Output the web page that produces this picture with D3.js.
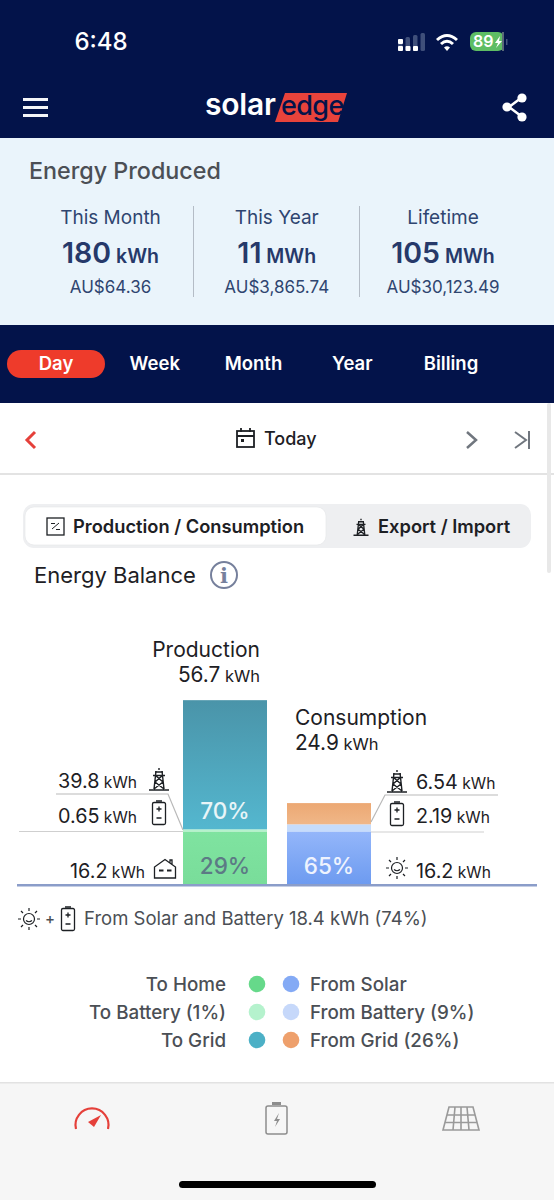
<!DOCTYPE html>
<html>
<head>
<meta charset="utf-8">
<script src="https://cdn.jsdelivr.net/npm/d3@7"></script>
<style>
  html, body { margin: 0; padding: 0; background: #fff; }
  svg { display: block; }
  text { font-family: Inter, "Noto Sans", sans-serif; }
</style>
</head>
<body>
<script>
// chart values
var barCategories = ["Production", "Consumption"];
var barTotals = ["56.7", "24.9"];
var seriesNames = ["solar", "battery", "grid"];
var solarValues = [16.2, 16.2];
var batteryValues = [0.65, 2.19];
var gridValues = [39.8, 6.54];
var maxValue = 56.7;

// legend
var legendLeft = ["To Home", "To Battery (1%)", "To Grid"];
var legendRight = ["From Solar", "From Battery (9%)", "From Grid (26%)"];
var legendLeftColors = ["#66d98a", "#b5f2cd", "#4cb0c6"];
var legendRightColors = ["#84aaf5", "#c6d8fa", "#eea06c"];

// header panels
var periodNames = ["This Month", "This Year", "Lifetime"];
var periodValues = ["180", "11", "105"];
var periodUnits = ["kWh", "MWh", "MWh"];
var periodMoney = ["AU$64.36", "AU$3,865.74", "AU$30,123.49"];
var tabNames = ["Day", "Week", "Month", "Year", "Billing"];

var w = 554, h = 1200;
var navy = "#03134a", dark = "#1d2024", gray = "#4b4f55", blue = "#2f4570";

var svg = d3.select("body").append("svg").attr("width", w).attr("height", h);
var defs = svg.append("defs");

function gradient(id, top, bottom) {
  var g = defs.append("linearGradient").attr("id", id)
    .attr("x1", 0).attr("x2", 0).attr("y1", 0).attr("y2", 1);
  g.append("stop").attr("offset", 0).attr("stop-color", top);
  g.append("stop").attr("offset", 1).attr("stop-color", bottom);
}
gradient("gGrid0", "#4a94a9", "#54b7cf");
gradient("gSolar0", "#7fe3a0", "#79dd9a");
gradient("gSolar1", "#94b6fa", "#6d9bf0");
gradient("gGrid1", "#eca873", "#f0b788");

function label(x, y, str, size, color, weight, anchor) {
  return svg.append("text").attr("x", x).attr("y", y).text(str)
    .attr("font-size", size).attr("fill", color)
    .attr("font-weight", weight || 400)
    .attr("text-anchor", anchor || "start");
}
function box(x, y, width, height, fill, r) {
  return svg.append("rect").attr("x", x).attr("y", y)
    .attr("width", width).attr("height", height)
    .attr("fill", fill).attr("rx", r || 0);
}
function stroke(d, color, sw, parent) {
  return (parent || svg).append("path").attr("d", d).attr("fill", "none")
    .attr("stroke", color).attr("stroke-width", sw || 1.3);
}

// value + small unit on one text node
function kwh(x, y, val, anchor) {
  var t = label(x, y, val, 19.8, dark, 400, anchor);
  t.append("tspan").attr("font-size", 15.6).text(" kWh");
  return t;
}

// icons
function towerIcon(x, y) {
  var g = svg.append("g").attr("transform", "translate(" + x + "," + y + ")");
  stroke("M0 -11V-9M-4 -7H4M-6 -3.5H6M-3 -8L-5 10M3 -8L5 10M-3.5 -3.5L4 3L-5 10M3.5 -3.5L-4 3L5 10M-10 11H10", dark, 1.4, g);
}
function batteryIcon(x, y, color) {
  var g = svg.append("g").attr("transform", "translate(" + x + "," + y + ")");
  var c = color || dark;
  g.append("rect").attr("x", -6.5).attr("y", -10.5).attr("width", 13).attr("height", 22).attr("rx", 1.5)
    .attr("fill", "none").attr("stroke", c).attr("stroke-width", 1.3);
  stroke("M-3 -12H3M-2.5 -4H2.5M0 -6.5V-1.5M-2.5 5H2.5", c, 1.3, g);
}
function sunIcon(x, y) {
  var g = svg.append("g").attr("transform", "translate(" + x + "," + y + ")");
  g.append("circle").attr("r", 5.5).attr("fill", "none").attr("stroke", dark).attr("stroke-width", 1.2);
  stroke("M-3 1.5Q0 4 3 1.5M0 -8V-11M0 8V11M-8 0H-11M8 0H11M-6 -6L-8 -8M6 -6L8 -8M-6 6L-8 8M6 6L8 8", dark, 1.2, g);
}
function homeIcon(x, y) {
  var g = svg.append("g").attr("transform", "translate(" + x + "," + y + ")");
  stroke("M-10.5 9V-2L0 -9.5L10.5 -2V9ZM5 -6V-9H7V-4.5", dark, 1.3, g);
  stroke("M-6 1.5H-1.5M2 1.5H6.5", dark, 2.2, g);
}

// top bar
box(0, 0, w, 138, navy);
label(101, 50, "6:48", 24, "#fff", 500, "middle");
svg.selectAll(".sig").data([0, 1, 2, 3]).enter().append("rect")
  .attr("x", function (d) { return 398 + d * 7.5; })
  .attr("y", function (d) { return 39 - d * 2; })
  .attr("width", 4.5).attr("height", function (d) { return 12 + d * 2; })
  .attr("rx", 1.5)
  .attr("fill", "#3f4f7a");
box(398, 39, 5, 5, "#fff", 1); box(398, 46, 5, 5, "#fff", 1);
box(405.5, 46, 5, 5, "#fff", 1); box(413, 46, 5, 5, "#fff", 1);
stroke("M437 40Q447 31 457 40M441 44Q447 38.5 453 44", "#fff", 3);
svg.append("path").attr("d", "M444 47.5Q447 45 450 47.5L447 51Z").attr("fill", "#fff");
box(470, 32, 34, 19, "#5ebd64", 6);
box(502, 32, 2, 19, "#5a6a78");
label(473, 47, "89", 16, "#fff", 600);
svg.append("path").attr("d", "M500 36L495 43H498L496 48L502 41H499Z").attr("fill", "#fff");
box(506, 39, 1.5, 6, "#46567f");

// menu, logo, share
[98, 106, 114].forEach(function (y) { box(23, y, 25, 3, "#f4f5f8"); });
label(205, 115, "solar", 30, "#fff", 600).attr("letter-spacing", -0.2);
svg.append("path").attr("d", "M285 93H347L338 122H275Z").attr("fill", "#e8433b");
label(281, 115, "edge", 27, navy, 500).attr("letter-spacing", -0.6);
stroke("M521 98L509 107L521 116", "#fff", 2.6);
svg.selectAll(".share").data([[522, 98], [507, 107], [522, 117]]).enter().append("circle")
  .attr("cx", function (d) { return d[0]; }).attr("cy", function (d) { return d[1]; })
  .attr("r", 4.6).attr("fill", "#fff");

// energy produced panel
box(0, 138, w, 187, "#eaf4fb");
label(29, 179, "Energy Produced", 23.3, gray, 500);
var panelX = d3.scalePoint().domain(periodNames).range([110.5, 443]);
periodNames.forEach(function (d, i) {
  var x = panelX(d);
  label(x, 224, d, 19, blue, 400, "middle");
  var t = label(x, 263, periodValues[i], 28.5, "#26396a", 600, "middle");
  t.append("tspan").attr("font-size", 19.5).text(" " + periodUnits[i]);
  label(x, 293, periodMoney[i], 17, blue, 400, "middle");
});
box(193, 206, 1, 91, "#b4bcc6");
box(359, 206, 1, 91, "#b4bcc6");

// period tabs
box(0, 325, w, 78, navy);
box(7, 350, 98, 28, "#ee3b2b", 14);
var tabX = d3.scalePoint().domain(tabNames).range([56, 451]);
tabNames.forEach(function (d) {
  label(tabX(d), 370, d, 18.5, "#fff", 600, "middle");
});

// date row
stroke("M35 432L27 440L35 448", "#e5403a", 3);
box(237, 431, 17, 16, "none").attr("stroke", dark).attr("stroke-width", 1.8);
stroke("M237 436H254M241 428V432M250 428V432", dark, 1.8);
box(241, 439, 3, 3, dark);
label(264, 445, "Today", 18, dark, 500);
stroke("M467 432L476 440L467 448", "#70767e", 2.5);
stroke("M515 432L526 440L515 448", "#70767e", 2);
box(528, 431, 2, 18, "#70767e");
box(0, 473, w, 2, "#e3e3e3");
box(547, 403, 4, 170, "#e8e8e8", 2);

// switch
box(23, 504, 508, 44, "#eeeff1", 11);
box(25, 507, 301, 38, "#fff", 9).attr("stroke", "#e4e5e8").attr("stroke-width", 0.6);
box(47, 518, 17, 17, "none").attr("stroke", dark).attr("stroke-width", 1.3);
stroke("M52 529L59 523M51 523.5H55M56 529.5H60", dark, 1);
label(73, 533, "Production / Consumption", 18.3, "#1d2024", 600);
svg.append("g").attr("transform", "translate(361,527) scale(0.75)").call(function (g) {
  stroke("M0 -11V-9M-4 -7H4M-6 -3.5H6M-3 -8L-5 10M3 -8L5 10M-3.5 -3.5L4 3L-5 10M3.5 -3.5L-4 3L5 10M-10 11H10", dark, 1.8, g);
});
label(378, 533, "Export / Import", 18.3, "#1d2024", 600);

label(34, 583, "Energy Balance", 22, dark, 400);
svg.append("circle").attr("cx", 224).attr("cy", 575).attr("r", 13)
  .attr("fill", "none").attr("stroke", "#76809c").attr("stroke-width", 2);
label(224, 583, "i", 21, "#76809c", 700, "middle").style("font-family", "'DejaVu Serif'");

// the bars
var x = d3.scaleBand().domain(barCategories).range([183, 371]).paddingInner(20 / 104);
var y = d3.scaleLinear().domain([0, maxValue]).range([884, 700]);

var stackRows = barCategories.map(function (c, i) {
  return { category: c, solar: solarValues[i], battery: batteryValues[i], grid: gridValues[i] };
});
var stack = d3.stack().keys(seriesNames)(stackRows);
var fills = {
  solar: ["url(#gSolar0)", "url(#gSolar1)"],
  battery: ["#b5f2cd", "#c6dcfb"],
  grid: ["url(#gGrid0)", "url(#gGrid1)"]
};

svg.selectAll(".layer").data(stack).enter().append("g").attr("class", "layer")
  .each(function (layer) {
    d3.select(this).selectAll("rect").data(layer).enter().append("rect")
      .attr("x", function (d) { return x(d.data.category); })
      .attr("y", function (d) { return y(d[1]); })
      .attr("width", x.bandwidth())
      .attr("height", function (d) { return y(d[0]) - y(d[1]); })
      .attr("fill", function (d, i) { return fills[layer.key][i]; });
  });

// guide lines
var guide = "#b9b9b9";
stroke("M19 831.5H183", "#cfcfcf", 1.2);
stroke("M56 794H168L183 830", guide, 1.2);
stroke("M371 822L385 795H498", guide, 1.2);
stroke("M371 832H484", "#cfcfcf", 1.2);

// baseline
box(17, 884, 520, 2.5, "#8b9dc9");

// titles
label(260, 657, barCategories[0], 21, dark, 400, "end");
var pt = label(260, 682, barTotals[0], 20.8, dark, 400, "end");
pt.append("tspan").attr("font-size", 16.5).text(" kWh");
label(295, 725, barCategories[1], 21, dark, 400);
var ct = label(295, 750, barTotals[1], 20.8, dark, 400);
ct.append("tspan").attr("font-size", 16.5).text(" kWh");

// percent labels on bars
label(225, 819, "70%", 22.5, "#e8f5f8", 500, "middle");
label(225, 874, "29%", 22.5, "#5c7a85", 500, "middle");
label(329, 874, "65%", 22.5, "#eef3fe", 500, "middle");

// side values
kwh(137, 788, gridValues[0].toFixed(1), "end");
towerIcon(159, 779);
kwh(137, 823, String(batteryValues[0]), "end");
batteryIcon(159, 813);
kwh(145, 878, solarValues[0].toFixed(1), "end");
homeIcon(165, 869);

towerIcon(397, 781);
kwh(416, 789, String(gridValues[1]));
batteryIcon(397, 814);
kwh(416, 823, String(batteryValues[1]));
sunIcon(397, 868);
kwh(416, 878, solarValues[1].toFixed(1));

// summary line
sunIcon(29, 919);
label(50, 924, "+", 15, gray, 500, "middle");
batteryIcon(68, 919);
label(84, 925, "From Solar and Battery 18.4 kWh (74%)", 18.5, gray, 400);

// legend
var legendY = d3.scalePoint().domain(d3.range(3)).range([984, 1040]);
d3.range(3).forEach(function (i) {
  label(226, legendY(i) + 6.5, legendLeft[i], 18.8, gray, 500, "end");
  label(310, legendY(i) + 6.5, legendRight[i], 18.8, gray, 500);
});
svg.selectAll(".dotL").data(legendLeftColors).enter().append("circle")
  .attr("cx", 257).attr("cy", function (d, i) { return legendY(i); })
  .attr("r", 8.3).attr("fill", function (d) { return d; });
svg.selectAll(".dotR").data(legendRightColors).enter().append("circle")
  .attr("cx", 291).attr("cy", function (d, i) { return legendY(i); })
  .attr("r", 8.3).attr("fill", function (d) { return d; });

// bottom nav
box(0, 1083, w, 117, "#f6f6f6");
box(0, 1082, w, 1.5, "#e2e2e2");
stroke("M76 1129A16.5 16.5 0 1 1 108 1129", "#e5403a", 2.2);
svg.append("path").attr("d", "M101 1115L94 1127L88 1122Z").attr("fill", "#e5403a");
box(266, 1106, 21, 28, "none", 2).attr("stroke", "#8d8d8d").attr("stroke-width", 1.5);
box(272, 1102, 9, 3, "#8d8d8d");
svg.append("path").attr("d", "M279 1113L274 1121H277L275 1127L280 1119H277Z").attr("fill", "#8d8d8d");
stroke("M449 1107H473L479 1130H443ZM447 1115H475M445 1122.5H477M455 1107L453 1130M461 1107V1130M467 1107L469 1130", "#9a9a9a", 1.6);
box(179, 1181, 197, 7, "#000", 3.5);
</script>
</body>
</html>
